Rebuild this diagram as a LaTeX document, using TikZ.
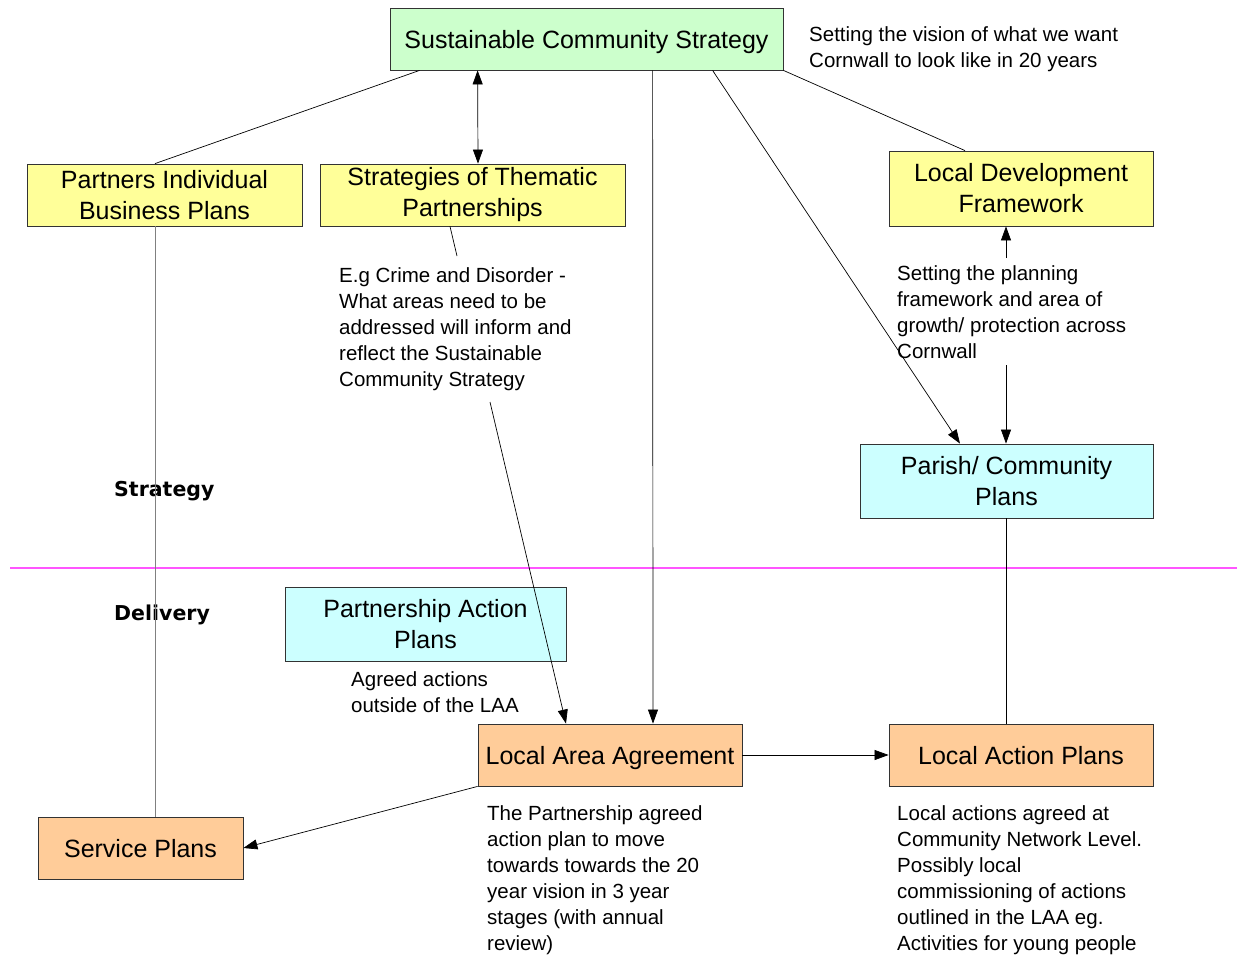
\documentclass[tikz,border=0pt]{standalone}
\usepackage{fontspec}
\setmainfont{Liberation Sans}
\newfontfamily\lblfont{DejaVu Sans}
\usetikzlibrary{arrows.meta,calc}
\definecolor{cgreen}{HTML}{CCFFCC}
\definecolor{cyellow}{HTML}{FFFF99}
\definecolor{ccyan}{HTML}{CCFFFF}
\definecolor{corange}{HTML}{FFCC99}
\definecolor{cmag}{HTML}{FF55FF}
\definecolor{cline}{HTML}{333333}
\tikzset{
  box/.style={draw=cline, line width=0.8pt, inner sep=0pt, align=center,
    font=\fontsize{25}{31}\selectfont},
  onebox/.style={box, text depth=0pt},
  note/.style={inner sep=0pt, align=left, anchor=north west,
    font=\fontsize{20.5}{26}\selectfont},
  conn/.style={line width=0.7pt, draw=black},
  arr/.style={conn, -{Triangle[length=14pt,width=10pt]}},
  darr/.style={conn, {Triangle[length=14pt,width=10pt]}-{Triangle[length=14pt,width=10pt]}},
  sidelbl/.style={inner sep=0pt, anchor=west, font=\lblfont\bfseries\fontsize{20.5}{24}\selectfont}
}
\begin{document}
\begin{tikzpicture}[x=1pt,y=-1pt]
\useasboundingbox (0,0) rectangle (1237,955);
% boxes
\node[onebox, fill=cgreen, minimum width=393pt, minimum height=62pt] (scs) at (586.5,39) {Sustainable Community Strategy};
\node[box, fill=cyellow, minimum width=275pt, minimum height=62pt] (pibp) at (164.5,195) {Partners Individual\\Business Plans};
\node[box, fill=cyellow, minimum width=305pt, minimum height=62pt] (stp) at (472.5,195) {Strategies of Thematic\\Partnerships};
\node[box, fill=cyellow, minimum width=264pt, minimum height=75pt] (ldf) at (1021,188.5) {Local Development\\Framework};
\node[box, fill=ccyan, minimum width=293pt, minimum height=74pt] (pcp) at (1006.5,481) {Parish/ Community\\Plans};
\node[box, fill=ccyan, minimum width=281pt, minimum height=74pt] (pap) at (425.5,624) {Partnership Action\\Plans};
\node[onebox, fill=corange, minimum width=264pt, minimum height=62pt] (laa) at (610,755) {Local Area Agreement};
\node[onebox, fill=corange, minimum width=264pt, minimum height=62pt] (lap) at (1021,755) {Local Action Plans};
\node[onebox, fill=corange, minimum width=205pt, minimum height=62pt] (svc) at (140.5,848) {Service Plans};
% notes
\node[note] (vision) at (809,26) {Setting the vision of what we want\\Cornwall to look like in 20 years};
\node[note] (eg) at (339,267) {E.g Crime and Disorder -\\What areas need to be\\addressed will inform and\\reflect the Sustainable\\Community Strategy};
\node[note] (plan) at (897,265) {Setting the planning\\framework and area of\\growth/ protection across\\Cornwall};
\node[note] (agreed) at (351,671) {Agreed actions\\outside of the LAA};
\node[note] (laanote) at (487,805) {The Partnership agreed\\action plan to move\\towards towards the 20\\year vision in 3 year\\stages (with annual\\review)};
\node[note] (lapnote) at (897,805) {Local actions agreed at\\Community Network Level.\\Possibly local\\commissioning of actions\\outlined in the LAA eg.\\Activities for young people};
\node[sidelbl] (strat) at (114,491) {Strategy};
\node[sidelbl] (deliv) at (114,615) {Delivery};
% free connector ends
\coordinate (egtop) at (457,256);
\coordinate (egbot) at (490,402);
\coordinate (pltop) at (1006,258);
\coordinate (plbot) at (1006,365);
\coordinate (magl) at (10,568);
\coordinate (magr) at (1237,568);
% divider
\draw[cmag, line width=1.3pt] (magl) -- (magr);
% connectors
\draw[conn] ([xshift=30pt]scs.south west) -- ([xshift=-9.5pt]pibp.north);
\draw[darr] ([xshift=88pt]scs.south west) -- ([xshift=5.5pt]stp.north);
\draw[arr] ([xshift=263pt]scs.south west) -- ([xshift=43pt]laa.north);
\draw[arr] ([xshift=323pt]scs.south west) -- ([xshift=-46.5pt]pcp.north);
\draw[conn] (scs.south east) -- ([xshift=-56pt]ldf.north);
\draw[conn] ([xshift=-22.5pt]stp.south) -- (egtop);
\draw[arr] (egbot) -- ([xshift=-44pt]laa.north);
\draw[arr] (pltop) -- ([xshift=-15pt]ldf.south);
\draw[arr] (plbot) -- ([xshift=-0.5pt]pcp.north);
\draw[conn, draw=gray] ([xshift=-9.5pt]pibp.south) -- ([xshift=14.5pt]svc.north);
\draw[conn] ([xshift=-0.5pt]pcp.south) -- ([xshift=-15pt]lap.north);
\draw[arr] (laa.east) -- (lap.west);
\draw[arr] (laa.south west) -- (svc.east);
\end{tikzpicture}
\end{document}
